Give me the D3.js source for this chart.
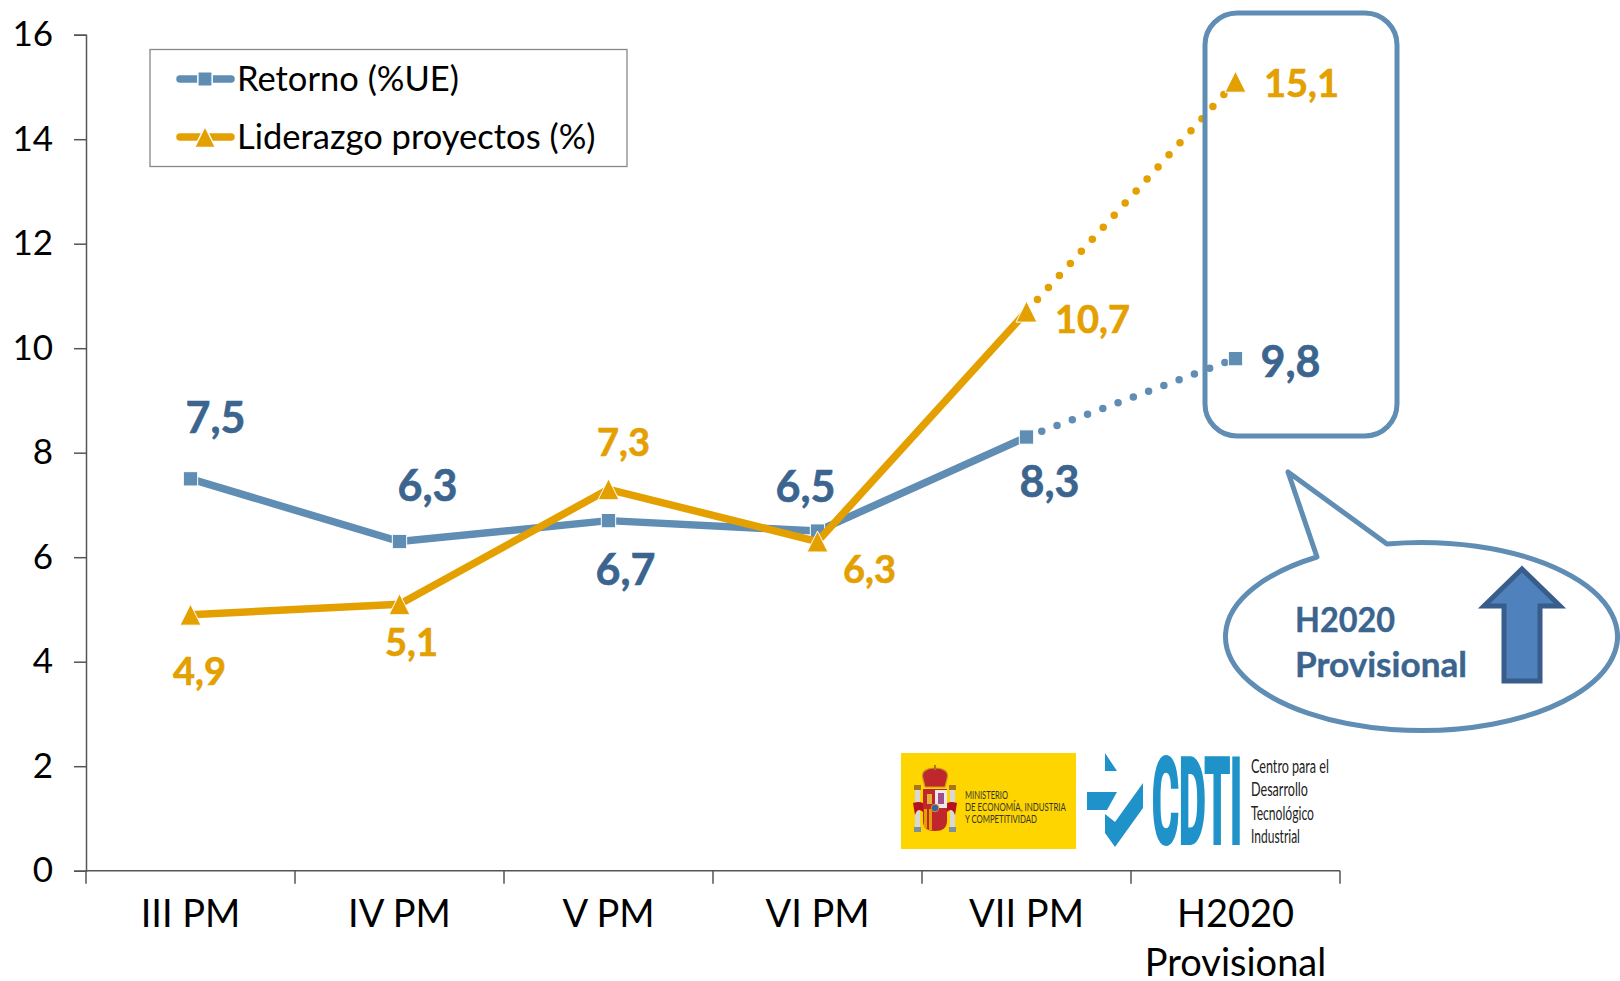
<!DOCTYPE html>
<html>
<head>
<meta charset="utf-8">
<script src="https://cdn.jsdelivr.net/npm/d3@7"></script>
<style>
body { margin: 0; background: #fff; }
text { font-family: Lato, "Open Sans", sans-serif; }
</style>
</head>
<body>
<div id="chart"></div>
<script>
var categories = ['III PM', 'IV PM', 'V PM', 'VI PM', 'VII PM', 'H2020'];
var retorno = [7.5, 6.3, 6.7, 6.5, 8.3, 9.8];
var liderazgo = [4.9, 5.1, 7.3, 6.3, 10.7, 15.1];
var yTicks = [0, 2, 4, 6, 8, 10, 12, 14, 16];
var seriesNames = ['Retorno (%UE)', 'Liderazgo proyectos (%)'];

// label offsets from the point, px
var retornoOffsets = [[25, -46], [28, -41], [17, 64], [-12, -29], [23, 60], [55, 18]];
var liderazgoOffsets = [[9, 70], [12, 52], [15, -33], [52, 41], [66, 21], [66, 15]];

var blue = '#5f8db4', darkBlue = '#3b648f', orange = '#e3a000';

var svg = d3.select('#chart').append('svg').attr('width', 1620).attr('height', 981);
var x = d3.scaleBand().domain(categories).range([86, 1340]);
var y = d3.scaleLinear().domain([0, 16]).range([870.7, 34.7]);
var comma = d3.formatLocale({decimal: ',', thousands: '.', grouping: [3], currency: ['', '']}).format('.1f');

// axes
var yAxis = svg.append('g').attr('transform', 'translate(86,0)')
	.call(d3.axisLeft(y).tickValues(yTicks).tickSize(12).tickPadding(21).tickFormat(d3.format('d')));
var xAxis = svg.append('g').attr('transform', 'translate(0,870.7)')
	.call(d3.axisBottom(x).tickSize(0).tickPadding(29));
[yAxis, xAxis].forEach(function(a) {
	a.selectAll('path, line').attr('stroke', '#555').attr('stroke-width', 1.5);
	a.selectAll('text').attr('fill', '#000').style('font-family', 'Lato');
});
yAxis.selectAll('text').style('font-size', '35px');
xAxis.selectAll('text').style('font-size', '38px');
xAxis.select('.domain').attr('d', 'M86,0H1340');
xAxis.selectAll('.edge').data(d3.range(categories.length + 1)).enter().append('line')
	.attr('class', 'edge')
	.attr('x1', function(i) { return 86 + i * x.step(); })
	.attr('x2', function(i) { return 86 + i * x.step(); })
	.attr('y1', 0).attr('y2', 13)
	.attr('stroke', '#555').attr('stroke-width', 1.5);
// second line of the last category
xAxis.selectAll('.tick').filter(function(d) { return d == 'H2020'; }).select('text')
	.append('tspan').attr('x', 0).attr('dy', 49).text('Provisional');

var line = d3.line()
	.x(function(d) { return x(d.c) + x.bandwidth() / 2; })
	.y(function(d) { return y(d.v); });

function drawSeries(values, color) {
	var pts = values.map(function(v, i) { return {c: categories[i], v: v}; });
	var g = svg.append('g');
	g.append('path').attr('d', line(pts.slice(0, 5)))
		.attr('fill', 'none').attr('stroke', color).attr('stroke-width', 7.5).attr('stroke-linejoin', 'round');
	g.append('path').attr('d', line(pts.slice(4)))
		.attr('fill', 'none').attr('stroke', color).attr('stroke-width', 7.5)
		.attr('stroke-linecap', 'round').attr('stroke-dasharray', '0 16.3');
	return {g: g, pts: pts};
}

// excel style triangle, a bit taller than equilateral and centred on its box
var tallTriangle = {draw: function(ctx, size) {
	var r = Math.sqrt(size) / 2;
	ctx.moveTo(0, -r);
	ctx.lineTo(r, r);
	ctx.lineTo(-r, r);
	ctx.closePath();
}};
var squareSym = d3.symbol().type(d3.symbolSquare).size(205);
var triSym = d3.symbol().type(tallTriangle).size(440);
function ptPos(d) { return 'translate(' + (x(d.c) + x.bandwidth() / 2) + ',' + y(d.v) + ')'; }

var s1 = drawSeries(retorno, blue);
s1.g.selectAll('.pt').data(s1.pts).enter().append('path').attr('class', 'pt')
	.attr('d', squareSym).attr('transform', ptPos)
	.attr('fill', blue).attr('stroke', '#fff').attr('stroke-width', 1);
var s2 = drawSeries(liderazgo, orange);
s2.g.selectAll('.pt').data(s2.pts).enter().append('path').attr('class', 'pt')
	.attr('d', triSym).attr('transform', ptPos)
	.attr('fill', orange).attr('stroke', '#fff').attr('stroke-width', 1);

// value labels
function drawLabels(pts, offsets, color, size) {
	svg.selectAll(null).data(pts).enter().append('text')
		.attr('x', function(d, i) { return x(d.c) + x.bandwidth() / 2 + offsets[i][0]; })
		.attr('y', function(d, i) { return y(d.v) + offsets[i][1]; })
		.attr('text-anchor', 'middle')
		.attr('fill', color).attr('stroke', color).attr('stroke-width', 0.6).attr('font-weight', 700)
		.style('font-size', size + 'px')
		.text(function(d) { return comma(d.v); });
}
drawLabels(s1.pts, retornoOffsets, darkBlue, 43);
drawLabels(s2.pts, liderazgoOffsets, orange, 38);

// legend
var legend = svg.append('g');
legend.append('rect').attr('x', 150).attr('y', 49.5).attr('width', 477).attr('height', 117)
	.attr('fill', '#fff').attr('stroke', '#888').attr('stroke-width', 1.3);
[0, 1].forEach(function(i) {
	var ly = 79 + i * 58;
	var color = i ? orange : blue;
	legend.append('line').attr('x1', 180).attr('x2', 231).attr('y1', ly).attr('y2', ly)
		.attr('stroke', color).attr('stroke-width', 7.5).attr('stroke-linecap', 'round');
	legend.append('path').attr('d', i ? triSym : squareSym).attr('transform', 'translate(205,' + ly + ')')
		.attr('fill', color).attr('stroke', '#fff').attr('stroke-width', 1.5);
	legend.append('text').attr('x', 237).attr('y', ly + 12).attr('fill', '#000')
		.style('font-size', '34.5px').text(seriesNames[i]);
});

// H2020 highlight box
svg.append('rect').attr('x', 1205).attr('y', 13).attr('width', 192).attr('height', 423).attr('rx', 32)
	.attr('fill', 'none').attr('stroke', blue).attr('stroke-width', 5);

// callout
svg.append('path')
	.attr('d', 'M1387,544 L1288,472 L1317,557 A196,94 0 1 0 1387,544 Z')
	.attr('fill', '#fff').attr('stroke', blue).attr('stroke-width', 5).attr('stroke-linejoin', 'round');
svg.append('text').attr('x', 1295).attr('y', 632).attr('fill', darkBlue).attr('stroke', darkBlue).attr('stroke-width', 0.4)
	.attr('font-weight', 700).attr('textLength', 100).attr('lengthAdjust', 'spacingAndGlyphs')
	.style('font-size', '34px').text('H2020');
svg.append('text').attr('x', 1295).attr('y', 677).attr('fill', darkBlue).attr('stroke', darkBlue).attr('stroke-width', 0.4)
	.attr('font-weight', 700).attr('textLength', 172).attr('lengthAdjust', 'spacingAndGlyphs')
	.style('font-size', '34px').text('Provisional');
svg.append('path')
	.attr('d', 'M1522,569 L1560,606 L1540,606 L1540,681 L1504,681 L1504,606 L1484,606 Z')
	.attr('fill', '#4f81bd').attr('stroke', '#385d8a').attr('stroke-width', 5);

// ministry logo, rough coat of arms
var logo = svg.append('g');
function logoRect(rx, ry, w, h, fill) {
	logo.append('rect').attr('x', rx).attr('y', ry).attr('width', w).attr('height', h).attr('fill', fill);
}
logoRect(901, 753, 175, 96, '#ffd500');
// pillars
logoRect(915, 789, 5, 38, '#d8d8d8');
logoRect(950, 789, 5, 38, '#d8d8d8');
logoRect(914, 785, 7, 5, '#a9741a');
logoRect(949, 785, 7, 5, '#a9741a');
logoRect(914, 827, 7, 5, '#7f8f9c');
logoRect(949, 827, 7, 5, '#7f8f9c');
// ribbons
logo.append('path').attr('d', 'M913,803 Q922,800 926,806 L924,813 Q918,806 915,815 Z').attr('fill', '#b5121b');
logo.append('path').attr('d', 'M957,803 Q948,800 944,806 L946,813 Q952,806 955,815 Z').attr('fill', '#b5121b');
// crown
logo.append('path').attr('d', 'M923,779 C920,770 929,768 935,768 C941,768 950,770 947,779 L945,787 H925 Z').attr('fill', '#c0272d').attr('stroke', '#c79a1d').attr('stroke-width', 1.2);
logoRect(934, 765, 2, 5, '#a9741a');
// shield
logo.append('path').attr('d', 'M923,789 H947 V821 Q947,831 935,831 Q923,831 923,821 Z').attr('fill', '#c0272d');
logoRect(935, 790, 12, 18, '#efe6ea');
logoRect(938, 793, 6, 11, '#a04d8c');
logoRect(927, 794, 5, 10, '#e3b23c');
logoRect(924, 809, 3, 19, '#e3a000');
logoRect(929, 809, 3, 21, '#e3a000');
logo.append('circle').attr('cx', 935).attr('cy', 808).attr('r', 3.8).attr('fill', '#3a5fa8').attr('stroke', '#c79a1d');
var ministryLines = ['MINISTERIO', 'DE ECONOMÍA, INDUSTRIA', 'Y COMPETITIVIDAD'];
var ministryWidths = [43, 101, 72];
ministryLines.forEach(function(t, i) {
	var txt = logo.append('text').attr('fill', '#333').style('font-size', '11px').text(t);
	var sx = ministryWidths[i] / txt.node().getComputedTextLength();
	txt.attr('transform', 'translate(965,' + (799 + i * 12) + ') scale(' + sx + ',1)');
});

// CDTI logo
var cdtiBlue = '#1f93c9';
[[[1105, 753], [1117, 771], [1105, 771]],
 [[1087, 792], [1117, 792], [1107, 810], [1087, 810]],
 [[1105, 814], [1115, 822], [1143, 783], [1143, 808], [1115, 847], [1105, 833]]].forEach(function(p) {
	svg.append('polygon').attr('points', p.join(' ')).attr('fill', cdtiBlue);
});
// squeezed with a scale so the box of the text stays the drawn width
var cdti = svg.append('text').attr('fill', cdtiBlue).attr('stroke', cdtiBlue).attr('stroke-width', 4)
	.style('font-size', '118px').style('font-family', 'Roboto').style('font-weight', 700).text('CDTI');
cdti.attr('transform', 'translate(1152,843) scale(' + (90 / cdti.node().getComputedTextLength()) + ',1)');
var cdtiLines = ['Centro para el', 'Desarrollo', 'Tecnológico', 'Industrial'];
var cdtiWidths = [78, 57, 63, 49];
cdtiLines.forEach(function(t, i) {
	var txt = svg.append('text').attr('fill', '#222').style('font-size', '19px').text(t);
	var sx = cdtiWidths[i] / txt.node().getComputedTextLength();
	txt.attr('transform', 'translate(1251,' + (773 + i * 23.3) + ') scale(' + sx + ',1)');
});
</script>
</body>
</html>
